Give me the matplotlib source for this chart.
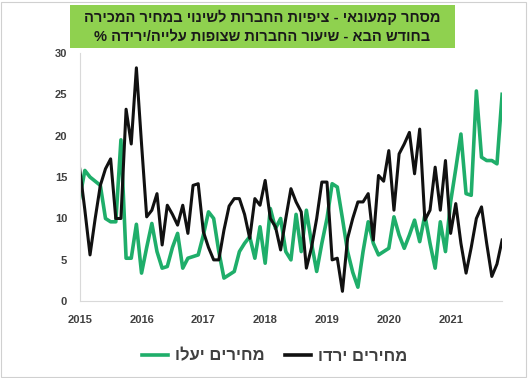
import matplotlib.pyplot as plt
from matplotlib.patches import Rectangle

plt.rcParams['font.family'] = ['Liberation Sans', 'DejaVu Sans']

# monthly survey, Jan 2015 onwards (% of firms)
prices_up = [12.5, 15.8, 15, 14.5, 14, 10, 9.6, 9.6, 19.5, 5.2, 5.2, 9.3,
             3.4, 6.5, 9.4, 6, 4, 4.2, 6.5, 8.2, 4, 5.2, 5.4, 5.6,
             8, 10.8, 10, 6, 2.8, 3.2, 3.6, 6, 7, 7.8, 5.2, 9,
             4.6, 11.2, 8.8, 10, 6, 5, 10.5, 6, 11, 7, 3.6, 7,
             10, 14.2, 13.8, 10, 6, 3.5, 1.7, 6, 9.6, 7, 5.6, 6,
             6.4, 10.2, 8, 6.4, 8, 9.8, 7.2, 10.4, 7, 4, 9.6, 6,
             12, 16, 20.2, 13, 12.8, 25.4, 17.4, 17, 17, 16.6, 25]
prices_down = [16, 11, 5.6, 10, 14, 16, 17.2, 10, 10, 23.2, 19, 28.2,
               19, 10.2, 11, 13, 6.8, 11.6, 10.5, 9.2, 11.6, 8.2, 14, 14.2,
               8.4, 6.5, 5, 5, 8.6, 11.5, 12.4, 12.4, 10.5, 7.6, 12.4, 11.6,
               14.6, 10, 9, 6.2, 10, 13.6, 12, 10.8, 4, 6.5, 10, 14.4,
               14.4, 5, 5.2, 1.2, 7.6, 10, 12, 12, 13, 7.4, 15.2, 14.5,
               18.2, 11, 17.8, 19, 20.4, 15.4, 20.8, 9.8, 11, 16.2, 11, 17,
               8.2, 11.8, 7, 3.4, 6.5, 10, 11.4, 7, 3, 4.5, 7.4]
years = ['2015', '2016', '2017', '2018', '2019', '2020', '2021']

label_up = 'מחירים יעלו'
label_down = 'מחירים ירדו'
title_lines = ['מסחר קמעונאי - ציפיות החברות לשינוי במחיר המכירה',
               'בחודש הבא - שיעור החברות שצופות עלייה/ירידה %']


def rtl(s):
    # matplotlib has no bidi support, so hand it the visual order
    return s[::-1]


fig = plt.figure(figsize=(5.28, 3.78), dpi=100)
ax = fig.add_axes([0.151, 0.203, 0.8, 0.657])

months = range(len(prices_up))
ax.plot(months, prices_up, color='#1fae6a', lw=2.6, label=rtl(label_up))
ax.plot(range(len(prices_down)), prices_down, color='#111111', lw=2.2, label=rtl(label_down))

ax.set_ylim(0, 30)
ax.set_yticks(range(0, 31, 5))
ax.set_xlim(0, len(prices_up) - 1)
ax.set_xticks([12 * k for k in range(len(years))])
ax.set_xticklabels(years)
ax.tick_params(length=0, labelsize=8, labelcolor='#404040', pad=9)
ax.tick_params(axis='x', pad=10)
for lbl in ax.get_xticklabels() + ax.get_yticklabels():
    lbl.set_fontweight('bold')

for side in ('top', 'right'):
    ax.spines[side].set_visible(False)
for side in ('left', 'bottom'):
    ax.spines[side].set_color('#d9d9d9')
    ax.spines[side].set_linewidth(0.8)

leg = fig.legend(loc='center', bbox_to_anchor=(0.52, 0.058), ncol=2, frameon=False,
                 fontsize=12, handlelength=1.6, columnspacing=1.2, handletextpad=0.4)
for t in leg.get_texts():
    t.set_color('#404040')
    t.set_fontweight('bold')
for h in leg.get_lines():
    h.set_linewidth(2.6)

# green title banner
fig.patches.append(Rectangle((0.133, 0.873), 0.729, 0.115, transform=fig.transFigure,
                             facecolor='#8fd14f', edgecolor='none', zorder=0))
fig.text(0.497, 0.955, rtl(title_lines[0]), ha='center', va='center',
         fontsize=10.5, fontweight='bold', color='#1a1a1a')
fig.text(0.497, 0.903, rtl(title_lines[1]), ha='center', va='center',
         fontsize=10.5, fontweight='bold', color='#1a1a1a')

# outer frame
fig.patches.append(Rectangle((0.002, 0.002), 0.994, 0.994, transform=fig.transFigure,
                             facecolor='none', edgecolor='#d0d0d0', lw=0.8))

fig.savefig('out.png', dpi=100)
